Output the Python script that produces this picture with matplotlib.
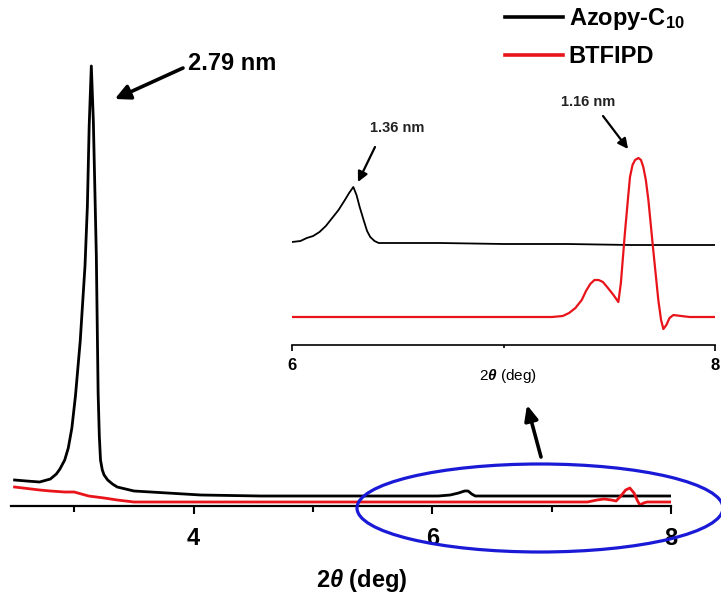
import matplotlib
matplotlib.use("Agg")
import matplotlib.pyplot as plt
from matplotlib.patches import Ellipse

plt.rcParams['font.family'] = ['Liberation Sans', 'DejaVu Sans']
plt.rcParams['mathtext.fontset'] = 'custom'
plt.rcParams['mathtext.rm'] = 'Liberation Sans:bold'
plt.rcParams['mathtext.it'] = 'Liberation Sans:bold:italic'
plt.rcParams['mathtext.bf'] = 'Liberation Sans:bold'

# main XRD patterns (2theta in deg, intensity a.u.)
azo_x = [2.50, 2.60, 2.71, 2.80, 2.85, 2.88, 2.92, 2.95, 2.98, 3.01, 3.05, 3.09, 3.11,
         3.125, 3.143, 3.16, 3.185, 3.20, 3.21, 3.22, 3.235, 3.25, 3.28, 3.32, 3.36,
         3.50, 3.78, 4.06, 4.56, 5.50, 6.05, 6.15, 6.22, 6.27, 6.30, 6.33, 6.36, 6.40,
         7.00, 8.00]
azo_y = [26, 25, 24, 27, 32, 37, 46, 58, 78, 110, 165, 240, 300,
         380, 440, 385, 250, 113, 70, 46, 36, 31, 26, 22, 19,
         15, 13, 11, 10, 10, 10, 11, 13, 15, 15, 12, 10, 10,
         10, 10]

bt_x = [2.50, 2.71, 2.80, 2.92, 3.00, 3.06, 3.12, 3.25, 3.36, 3.50, 4.00, 7.30,
        7.38, 7.44, 7.50, 7.54, 7.58, 7.62, 7.655, 7.69, 7.72, 7.74, 7.77, 7.80, 8.00]
bt_y = [19, 16, 15, 14, 14, 12, 10, 8, 6, 4, 4, 4,
        6, 7, 6, 5, 10, 16, 18, 13, 5, 1, 3, 4, 4]

# inset (6-8 deg), offset patterns
ins_azo_x = [6.00, 6.04, 6.07, 6.10, 6.13, 6.16, 6.19, 6.22, 6.25, 6.27, 6.29, 6.305,
             6.32, 6.34, 6.355, 6.37, 6.39, 6.41, 6.45, 6.50, 6.70, 7.00, 7.30,
             7.60, 8.00]
ins_azo_y = [103, 104, 107, 109, 113, 119, 127, 135, 145, 152, 158, 150,
             138, 124, 114, 108, 104, 102, 102, 102, 102, 101, 101,
             100, 100]

ins_bt_x = [6.00, 6.50, 7.00, 7.23, 7.28, 7.31, 7.34, 7.37, 7.39, 7.41, 7.43, 7.45,
            7.47, 7.49, 7.52, 7.543, 7.555, 7.574, 7.588, 7.598, 7.61, 7.622, 7.638,
            7.65, 7.661, 7.673, 7.685, 7.708, 7.732, 7.745, 7.756, 7.77, 7.785, 7.803,
            7.84, 7.88, 8.00]
ins_bt_y = [28, 28, 28, 28, 29, 32, 37, 45, 54, 61, 65, 65,
            63, 58, 50, 43, 62, 112, 145, 168, 180, 185, 187,
            185, 178, 165, 145, 95, 45, 25, 16, 20, 27, 30,
            29, 28, 28]

W, H = 721, 592
fig = plt.figure(figsize=(W / 100, H / 100), dpi=100)

# ---- main axes ----
ax = fig.add_axes([11 / W, 86 / H, 660 / W, 466 / H])
ax.plot(azo_x, azo_y, color='black', lw=2.0, label='Azopy-C$_{10}$')
ax.plot(bt_x, bt_y, color='#e8141a', lw=2.0, label='BTFIPD')
ax.set_xlim(2.47, 8.0)
ax.set_ylim(0, 466)
for s in ['left', 'right', 'top']:
    ax.spines[s].set_visible(False)
ax.spines['bottom'].set_linewidth(1.6)
ax.set_yticks([])
ax.set_xticks([4, 6, 8])
ax.set_xticks([3, 5, 7], minor=True)
ax.tick_params(axis='x', which='major', direction='out', length=6, width=1.5,
               labelsize=17, pad=9)
ax.tick_params(axis='x', which='minor', direction='out', length=4.5, width=1.5)
for lab in ax.get_xticklabels():
    lab.set_fontweight('bold')
ax.patch.set_alpha(0)

fig.text(362 / W, 12 / H, r'2$\theta$ (deg)', fontsize=17, fontweight='bold',
         ha='center', va='center')

# 2.79 nm arrow
ax.annotate('', xy=(3.34, 407), xycoords='data', xytext=(183, H - 68),
            textcoords='figure pixels',
            arrowprops=dict(arrowstyle='-|>,head_length=0.9,head_width=0.45',
                            color='black', lw=2.6, shrinkA=0, shrinkB=0))
fig.text(188 / W, (H - 64) / H, '2.79 nm', fontsize=17, fontweight='bold',
         ha='left', va='center')

# ---- inset axes ----
ins = fig.add_axes([292 / W, (H - 345) / H, 423 / W, 205 / H])
ins.plot(ins_azo_x, ins_azo_y, color='black', lw=1.3)
ins.plot(ins_bt_x, ins_bt_y, color='#e8141a', lw=1.6)
ins.set_xlim(6, 8)
ins.set_ylim(0, 205)
for s in ['left', 'right', 'top']:
    ins.spines[s].set_visible(False)
ins.spines['bottom'].set_linewidth(1.2)
ins.set_yticks([])
ins.set_xticks([6, 8])
ins.set_xticks([7], minor=True)
ins.tick_params(axis='x', which='major', direction='out', length=4, width=1.2,
                labelsize=12, pad=5)
ins.tick_params(axis='x', which='minor', direction='out', length=2.5, width=1.2)
for lab in ins.get_xticklabels():
    lab.set_fontweight('bold')
ins.patch.set_alpha(0)
fig.text(508 / W, (H - 376) / H, r'2$\theta$ (deg)', fontsize=11,
         ha='center', va='center')

ins.annotate('', xy=(6.312, 163), xycoords='data', xytext=(375, H - 147),
             textcoords='figure pixels',
             arrowprops=dict(arrowstyle='-|>,head_length=0.6,head_width=0.3',
                             color='black', lw=1.6, shrinkA=0, shrinkB=0))
fig.text(397 / W, (H - 128) / H, '1.36 nm', fontsize=10.5, fontweight='bold',
         ha='center', va='center', color='#222222')
ins.annotate('', xy=(7.589, 196), xycoords='data', xytext=(603, H - 116),
             textcoords='figure pixels',
             arrowprops=dict(arrowstyle='-|>,head_length=0.6,head_width=0.3',
                             color='black', lw=1.6, shrinkA=0, shrinkB=0))
fig.text(588 / W, (H - 102) / H, '1.16 nm', fontsize=10.5, fontweight='bold',
         ha='center', va='center', color='#222222')

# ---- highlight ellipse and arrow ----
ell = Ellipse((540 / W, 84 / H), 366 / W, 88 / H, transform=fig.transFigure,
              fill=False, edgecolor='#1a1ad6', lw=2.3)
fig.patches.append(ell)
ax.annotate('', xy=(527, H - 405), xycoords='figure pixels', xytext=(541, H - 457),
            textcoords='figure pixels',
            arrowprops=dict(arrowstyle='-|>,head_length=0.9,head_width=0.4',
                            color='black', lw=2.6, shrinkA=0, shrinkB=0))

# ---- legend ----
fig.legend(*ax.get_legend_handles_labels(), loc='upper left',
           bbox_to_anchor=(505 / W, 1 - 6 / H), frameon=False, borderpad=0,
           borderaxespad=0, handlelength=2.45, handletextpad=0.25,
           labelspacing=0.55, prop={'size': 17, 'weight': 'bold'})
for line in fig.legends[0].get_lines():
    line.set_linewidth(2.6)

fig.savefig('out.png', dpi=100)
